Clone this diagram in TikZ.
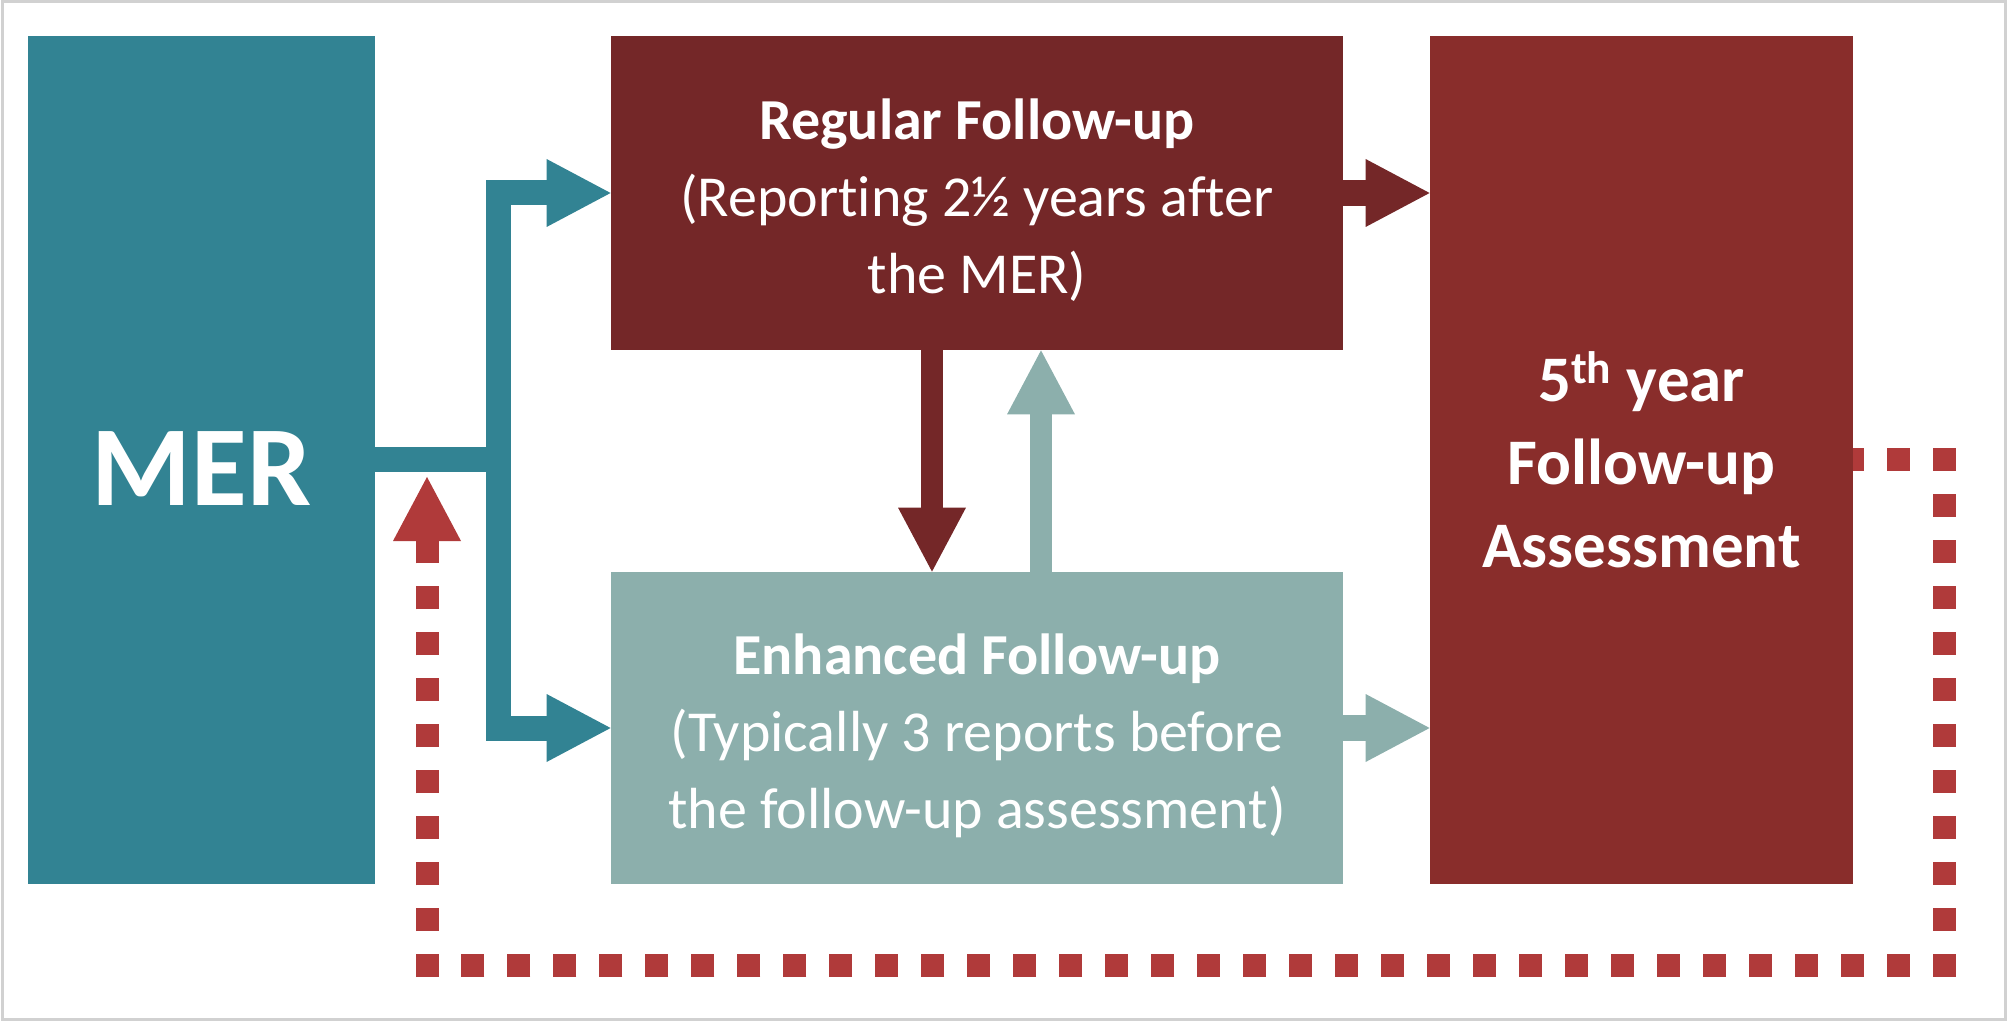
\documentclass[tikz,border=0pt]{standalone}
\usepackage{fontspec}
\setmainfont[Ligatures=NoCommon]{Carlito}
\usetikzlibrary{arrows.meta}
\definecolor{merteal}{HTML}{328393}
\definecolor{regred}{HTML}{742728}
\definecolor{enhgrey}{HTML}{8CAFAC}
\definecolor{fifthred}{HTML}{892D2B}
\definecolor{loopred}{HTML}{B03A3A}
\begin{document}
\begin{tikzpicture}[x=0.5pt, y=-0.5pt,
        every node/.style={rectangle, inner sep=0pt, text=white, align=center},
        head/.style={-{Triangle[length=32pt, width=34pt, line width=0pt]}},
        flat/.style={line width=13pt, head},
        upright/.style={line width=11pt, head},
        small/.style={font=\fontsize{29pt}{38.5pt}\selectfont}]
            \useasboundingbox (0,0) rectangle (2008,1021);
            \draw[black!18, line width=1.5pt] (2,2) rectangle (2005,1019);
            \node[fill=merteal, minimum width=173.5pt, minimum height=424pt, text height=46pt, font=\bfseries\fontsize{57pt}{60pt}\selectfont] (mer) at (201.5,460) {MER};
            \node[fill=regred, minimum width=366pt, minimum height=157pt, small] (reg) at (977,193) {\rule{0pt}{28pt}\textbf{Regular Follow-up}\\(Reporting 2½ years after\\the MER)};
            \node[fill=enhgrey, minimum width=366pt, minimum height=156pt, small] (enh) at (977,728) {\rule{0pt}{28pt}\textbf{Enhanced Follow-up}\\(Typically 3 reports before\\the follow-up assessment)};
            \node[fill=fifthred, minimum width=211.5pt, minimum height=424pt, font=\bfseries\fontsize{32.5pt}{41.5pt}\selectfont] (fifth) at (1641.5,460) {5\textsuperscript{th} year\\Follow-up\\Assessment};
            \coordinate (loopout) at (1944,460);
            \coordinate (loopturn) at (1944,965.7);
            \coordinate (loopback) at (427,965.7);
            \coordinate (loopend) at (427,477);
            \draw[flat, merteal, line width=12.5pt] (mer.east) -- ++(123,0) |- (reg.west);
            \draw[flat, merteal, line width=12.5pt] (mer.east) -- ++(123,0) |- (enh.west);
            \draw[flat, regred] (reg.east) -- (reg.east -| fifth.west);
            \draw[flat, enhgrey] (enh.east) -- (enh.east -| fifth.west);
            \draw[upright, regred] ([xshift=-22.5pt]reg.south) -- ([xshift=-22.5pt]enh.north);
            \draw[upright, enhgrey] ([xshift=32pt]enh.north) -- ([xshift=32pt]reg.south);
            \draw[head, loopred, line width=11.5pt, dash pattern=on 11.5pt off 11.485pt]
                ([xshift=5.75pt]loopout) -- (fifth.east)
                ([yshift=5.75pt]loopout) -- ([yshift=-5.75pt]loopturn)
                ([xshift=5.75pt]loopturn) -- ([xshift=-5.75pt]loopback)
                ([yshift=-5.75pt]loopback) -- (loopend);
        \end{tikzpicture}
\end{document}
